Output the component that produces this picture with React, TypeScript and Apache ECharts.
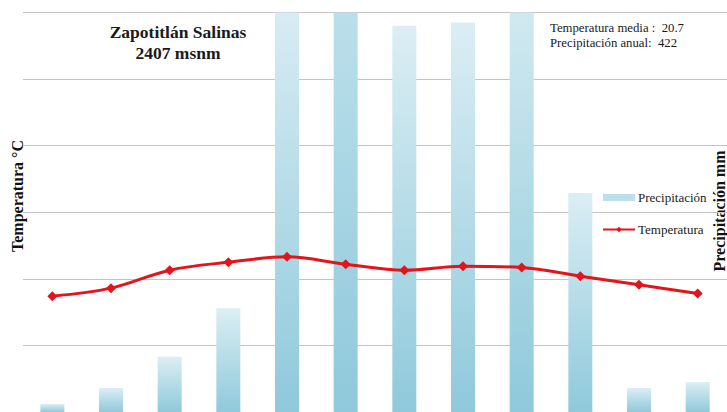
import React, { useEffect, useRef } from "react";
import * as echarts from "echarts";

const months = ["Ene", "Feb", "Mar", "Abr", "May", "Jun", "Jul", "Ago", "Sep", "Oct", "Nov", "Dic"];
const precipitacion = [1.2, 3.6, 8.3, 15.6, 63, 103, 58, 58.5, 70, 32.9, 3.6, 4.5];
const temperatura = [17.4, 18.6, 21.3, 22.5, 23.3, 22.2, 21.3, 21.9, 21.7, 20.4, 19.1, 17.8];
const tempTicks = [0, 10, 20, 30, 40, 50, 60];
const precTicks = [0, 10, 20, 30, 40, 50, 60];
const tituloEstacion = ["Zapotitlán Salinas", "2407 msnm"];
const resumen = ["Temperatura media :  20.7", "Precipitación anual:  422"];

const TOP = [219, 238, 244];
const BOTTOM = [143, 201, 219];
const SERIF = "Liberation Serif";

function mix(t: number) {
  const c = TOP.map((a, i) => Math.round(a + (BOTTOM[i] - a) * t));
  return `rgb(${c[0]},${c[1]},${c[2]})`;
}

export default function App() {
  const ref = useRef<HTMLDivElement>(null);
  useEffect(() => {
    if (!ref.current) return;
    const chart = echarts.init(ref.current, null, { renderer: "svg" });
    const pMax = precTicks[precTicks.length - 1];
    const barData = precipitacion.map((v) => {
      const t = v > pMax ? 1 - pMax / v : 0;
      return {
        value: v,
        itemStyle: {
          color: new echarts.graphic.LinearGradient(0, 0, 0, 1, [
            { offset: 0, color: mix(t) },
            { offset: 1, color: mix(1) },
          ]),
        },
      };
    });
    chart.setOption({
      animation: false,
      textStyle: { fontFamily: SERIF },
      grid: { left: 23, top: 12.5, width: 713, height: 400.5, containLabel: false },
      xAxis: {
        type: "category",
        data: months,
        show: false,
      },
      yAxis: [
        {
          type: "value",
          min: tempTicks[0],
          max: tempTicks[tempTicks.length - 1],
          interval: tempTicks[1] - tempTicks[0],
          axisLabel: { show: false },
          axisLine: { show: false },
          axisTick: { show: false },
          splitLine: { show: true, lineStyle: { color: "#c4c4c4", width: 1 } },
        },
        {
          type: "value",
          min: precTicks[0],
          max: pMax,
          interval: precTicks[1] - precTicks[0],
          axisLabel: { show: false },
          axisLine: { show: false },
          axisTick: { show: false },
          splitLine: { show: false },
        },
      ],
      legend: {
        orient: "vertical",
        left: 597,
        top: 186,
        itemWidth: 32,
        itemHeight: 7,
        itemGap: 19,
        textStyle: { fontFamily: SERIF, fontSize: 13, color: "#222", padding: [0, 0, 0, -2] },
        data: [
          { name: "Precipitación", icon: "rect" },
          { name: "Temperatura" },
        ],
      },
      series: [
        {
          name: "Precipitación",
          type: "bar",
          yAxisIndex: 1,
          barWidth: 24,
          data: barData,
          itemStyle: { color: mix(0.4) },
          z: 2,
        },
        {
          name: "Temperatura",
          type: "line",
          yAxisIndex: 0,
          data: temperatura,
          smooth: 0.35,
          symbol: "diamond",
          symbolSize: 10,
          itemStyle: { color: "#e3141b" },
          lineStyle: { color: "#e3141b", width: 3 },
          z: 3,
        },
      ],
      graphic: [
        {
          type: "text",
          x: 178,
          y: 21,
          style: {
            text: tituloEstacion.join("\n"),
            fontFamily: SERIF,
            fontWeight: "bold",
            fontSize: 17.5,
            fill: "#1a1a1a",
            align: "center",
            lineHeight: 21,
          },
        },
        {
          type: "text",
          x: 550,
          y: 20.5,
          style: {
            text: resumen.join("\n"),
            fontFamily: SERIF,
            fontSize: 12.75,
            fill: "#1a1a1a",
            align: "left",
            lineHeight: 15,
          },
        },
        {
          type: "text",
          x: 17,
          y: 196,
          rotation: Math.PI / 2,
          style: {
            text: "Temperatura °C",
            fontFamily: SERIF,
            fontWeight: "bold",
            fontSize: 16,
            fill: "#111",
            align: "center",
            verticalAlign: "middle",
          },
        },
        {
          type: "text",
          x: 719,
          y: 211,
          rotation: Math.PI / 2,
          style: {
            text: "Precipitación mm",
            fontFamily: SERIF,
            fontWeight: "bold",
            fontSize: 16,
            fill: "#111",
            align: "center",
            verticalAlign: "middle",
          },
        },
      ],
    });
    return () => chart.dispose();
  }, []);
  return (
    <div
      ref={ref}
      style={{ position: "fixed", left: 0, top: 0, width: 727, height: 412, background: "#fff" }}
    />
  );
}
